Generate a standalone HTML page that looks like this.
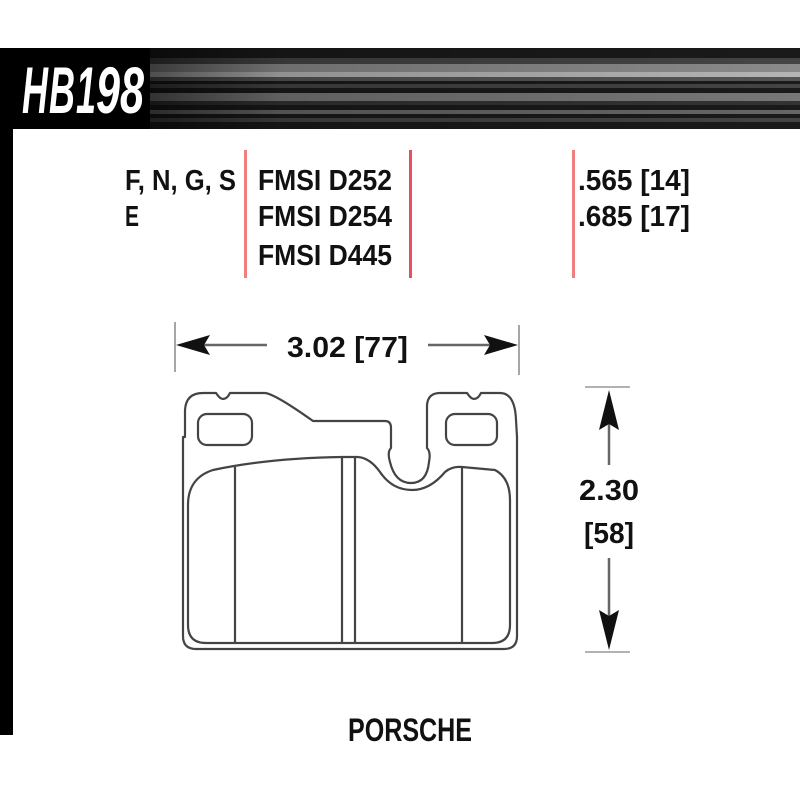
<!DOCTYPE html>
<html><head><meta charset="utf-8"><style>
html,body{margin:0;padding:0;background:#fff;}
svg{display:block}
text{font-family:"Liberation Sans",sans-serif;fill:#111;}
</style></head><body>
<svg width="800" height="800" viewBox="0 0 800 800" xmlns="http://www.w3.org/2000/svg">
<defs>
<linearGradient id="fade" x1="0" x2="1" y1="0" y2="0">
<stop offset="0" stop-color="#000" stop-opacity="1"/>
<stop offset="0.35" stop-color="#000" stop-opacity="0.2"/>
<stop offset="1" stop-color="#000" stop-opacity="0"/>
</linearGradient>
</defs>
<!-- header -->
<rect x="0" y="48" width="800" height="81" fill="#1a1a1a"/>
<rect x="0" y="58" width="800" height="6" fill="#444"/>
<rect x="0" y="64" width="800" height="8" fill="#8a8a8a"/>
<rect x="0" y="72" width="800" height="5" fill="#b5b5b5"/>
<rect x="0" y="77" width="800" height="4" fill="#555"/>
<rect x="0" y="84" width="800" height="4" fill="#444"/>
<rect x="0" y="93" width="800" height="8" fill="#777"/>
<rect x="0" y="101" width="800" height="4" fill="#333"/>
<rect x="0" y="110" width="800" height="4" fill="#666"/>
<rect x="0" y="118" width="800" height="4" fill="#444"/>
<rect x="0" y="48" width="800" height="81" fill="url(#fade)"/>
<rect x="0" y="48" width="150" height="81" fill="#000"/>
<g font-size="66" font-weight="bold" font-style="italic" style="fill:#fff">
<text x="22" y="113" textLength="26" lengthAdjust="spacingAndGlyphs" style="fill:#fff">H</text>
<text x="49" y="113" textLength="26" lengthAdjust="spacingAndGlyphs" style="fill:#fff">B</text>
<text x="76" y="113" textLength="20" lengthAdjust="spacingAndGlyphs" style="fill:#fff">1</text>
<text x="96" y="113" textLength="24" lengthAdjust="spacingAndGlyphs" style="fill:#fff">9</text>
<text x="120" y="113" textLength="24" lengthAdjust="spacingAndGlyphs" style="fill:#fff">8</text>
</g>
<rect x="0" y="128" width="13" height="607" fill="#000"/>
<!-- red lines -->
<rect x="244" y="150" width="3" height="128" fill="#f08080"/>
<rect x="409" y="150" width="3" height="128" fill="#e85060"/>
<rect x="572" y="150" width="3" height="128" fill="#f08080"/>
<!-- text table -->
<g font-weight="bold" font-size="29">
<text x="125" y="190" textLength="111" lengthAdjust="spacingAndGlyphs">F, N, G, S</text>
<text x="125" y="226" textLength="14" lengthAdjust="spacingAndGlyphs">E</text>
<text x="258" y="190" textLength="134" lengthAdjust="spacingAndGlyphs">FMSI D252</text>
<text x="258" y="226" textLength="134" lengthAdjust="spacingAndGlyphs">FMSI D254</text>
<text x="258" y="265" textLength="134" lengthAdjust="spacingAndGlyphs">FMSI D445</text>
<text x="578" y="190" textLength="112" lengthAdjust="spacingAndGlyphs">.565 [14]</text>
<text x="578" y="226" textLength="112" lengthAdjust="spacingAndGlyphs">.685 [17]</text>
</g>
<!-- width dimension -->
<g stroke="#888" stroke-width="1.5">
<line x1="175" y1="322" x2="175" y2="372"/>
<line x1="519" y1="325" x2="519" y2="375"/>
</g>
<line x1="200" y1="345" x2="267" y2="345" stroke="#666" stroke-width="2.5"/>
<line x1="428" y1="345" x2="495" y2="345" stroke="#666" stroke-width="2.5"/>
<polygon points="176,345 210,335 204,345 210,355" fill="#111"/>
<polygon points="518,345 484,335 490,345 484,355" fill="#111"/>
<text x="287" y="357" font-size="29" font-weight="bold" textLength="121" lengthAdjust="spacingAndGlyphs">3.02 [77]</text>
<!-- height dimension -->
<g stroke="#999" stroke-width="1.5">
<line x1="585" y1="387" x2="630" y2="387"/>
<line x1="585" y1="652" x2="630" y2="652"/>
</g>
<line x1="609" y1="410" x2="609" y2="465" stroke="#666" stroke-width="2.5"/>
<line x1="609" y1="558" x2="609" y2="630" stroke="#666" stroke-width="2.5"/>
<polygon points="609,390 599,430 609,424 619,430" fill="#111"/>
<polygon points="609,650 599,610 609,616 619,610" fill="#111"/>
<text x="609" y="500" font-size="29" font-weight="bold" text-anchor="middle" textLength="60" lengthAdjust="spacingAndGlyphs">2.30</text>
<text x="609" y="543" font-size="29" font-weight="bold" text-anchor="middle" textLength="50" lengthAdjust="spacingAndGlyphs">[58]</text>
<!-- pad -->
<g fill="none" stroke="#444" stroke-width="2.2" stroke-linejoin="round">
<path d="M185,437 L185,410 Q186,393 203,393 L216,393 Q220,399 223,399 Q227,399 230,393 L265,393 Q275,394 313,421 L385,421 Q391,421 391,428 L391,448 Q387,452 390,462 Q395,483 411,483 Q427,483 429,462 Q431,452 427,448 L427,405 Q428,393 440,393 L467,393 Q471,399 474,399 Q478,399 481,393 L500,393 Q515,393 516,420 L517,437 L517,636 Q517,649 504,649 L196,649 Q183,649 183,636 L183,437 Z"/>
<rect x="198" y="414" width="54" height="31" rx="9"/>
<rect x="446" y="414" width="51" height="31" rx="9"/>
<path d="M188,505 Q188,478 213,470 Q270,458 342,457 L358,457 Q370,458 380,472 Q392,490 412,490 Q430,490 445,472 Q452,466 462,467 L495,470 Q510,478 510,500 L510,625 Q510,643 492,643 L206,643 Q188,643 188,625 Z"/>
<line x1="235" y1="467" x2="235" y2="643"/>
<line x1="342" y1="458" x2="342" y2="643"/>
<line x1="355" y1="458" x2="355" y2="643"/>
<line x1="462" y1="468" x2="462" y2="643"/>
</g>
<text x="348" y="741" font-size="32" font-weight="bold" textLength="124" lengthAdjust="spacingAndGlyphs">PORSCHE</text>
</svg>
</body></html>
